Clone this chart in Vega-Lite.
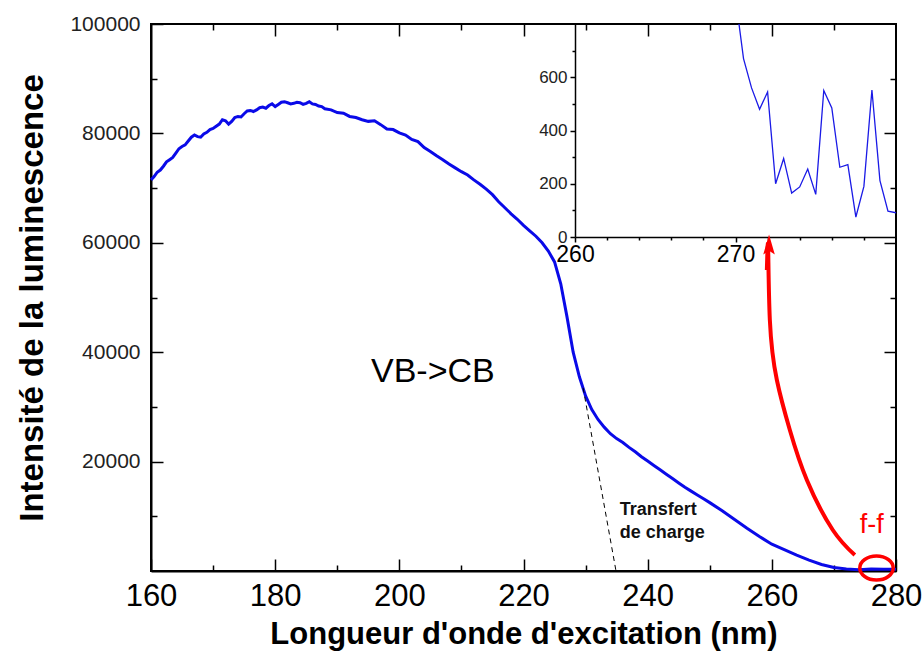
{
  "$schema": "https://vega.github.io/schema/vega-lite/v6.json",
  "width": 745,
  "height": 547,
  "autosize": {"type": "none"},
  "padding": {"left": 151, "top": 24, "right": 28, "bottom": 94},
  "background": "white",
  "config": {
    "font": "Liberation Sans",
    "view": {"stroke": "black", "strokeWidth": 2},
    "axis": {"grid": false, "domainColor": "black", "tickColor": "black", "labelColor": "black", "titleColor": "black", "tickWidth": 1.5, "domainWidth": 2, "labelFont": "Liberation Sans", "titleFont": "Liberation Sans"}
  },
  "datasets": {
    "main": [
      {"nm":160,"val":71500},{"nm":160.5,"val":72100},{"nm":161,"val":72900},{"nm":161.5,"val":73300},{"nm":162,"val":74000},{"nm":162.5,"val":74800},{"nm":163,"val":75200},{"nm":163.5,"val":75600},{"nm":164,"val":76400},{"nm":164.5,"val":77200},
      {"nm":165,"val":77600},{"nm":165.5,"val":77900},{"nm":166,"val":78600},{"nm":166.5,"val":79300},{"nm":167,"val":79700},{"nm":167.5,"val":79400},{"nm":168,"val":79300},{"nm":168.5,"val":79900},{"nm":169,"val":80200},{"nm":169.5,"val":80700},
      {"nm":170,"val":80900},{"nm":170.5,"val":81300},{"nm":171,"val":81700},{"nm":171.5,"val":82500},{"nm":172,"val":82300},{"nm":172.5,"val":81700},{"nm":173,"val":82200},{"nm":173.5,"val":82900},{"nm":174,"val":83100},{"nm":174.5,"val":83000},
      {"nm":175,"val":83600},{"nm":175.5,"val":84100},{"nm":176,"val":84200},{"nm":176.5,"val":84000},{"nm":177,"val":84300},{"nm":177.5,"val":84700},{"nm":178,"val":84800},{"nm":178.5,"val":84600},{"nm":179,"val":85100},{"nm":179.5,"val":85400},
      {"nm":180,"val":84900},{"nm":180.5,"val":85300},{"nm":181,"val":85700},{"nm":181.5,"val":85800},{"nm":182,"val":85600},{"nm":182.5,"val":85400},{"nm":183,"val":85500},{"nm":183.5,"val":85700},{"nm":184,"val":85600},{"nm":184.5,"val":85300},
      {"nm":185,"val":85500},{"nm":185.5,"val":85800},{"nm":186,"val":85400},{"nm":186.5,"val":85300},{"nm":187,"val":85000},{"nm":187.5,"val":84900},{"nm":188,"val":84500},{"nm":189,"val":84300},
      {"nm":190,"val":83800},{"nm":191,"val":83700},{"nm":192,"val":83100},{"nm":193,"val":82900},{"nm":194,"val":82500},
      {"nm":195,"val":82200},{"nm":196,"val":82300},{"nm":197,"val":81600},{"nm":198,"val":80800},{"nm":199,"val":80700},
      {"nm":200,"val":80100},{"nm":201,"val":79700},{"nm":202,"val":78900},{"nm":203,"val":78500},{"nm":204,"val":77400},
      {"nm":205,"val":76700},{"nm":206,"val":75900},{"nm":207,"val":75200},{"nm":208,"val":74400},{"nm":209,"val":73700},
      {"nm":210,"val":73000},{"nm":211,"val":72400},{"nm":212,"val":71500},{"nm":213,"val":70700},{"nm":214,"val":69800},
      {"nm":215,"val":68800},{"nm":216,"val":67500},{"nm":217,"val":66400},{"nm":218,"val":65300},{"nm":219,"val":64300},
      {"nm":220,"val":63200},{"nm":221,"val":62200},{"nm":222,"val":61200},{"nm":223,"val":60000},{"nm":224,"val":58500},
      {"nm":225,"val":56500},{"nm":226,"val":52500},{"nm":227,"val":46500},{"nm":228,"val":40000},{"nm":229,"val":35500},
      {"nm":230,"val":32000},{"nm":231,"val":29500},{"nm":232,"val":27700},{"nm":233,"val":26300},{"nm":234,"val":25100},
      {"nm":235,"val":24200},{"nm":236,"val":23500},{"nm":237,"val":22600},{"nm":238,"val":21800},{"nm":239,"val":20900},
      {"nm":240,"val":20100},{"nm":241,"val":19300},{"nm":242,"val":18500},{"nm":243,"val":17700},{"nm":244,"val":16900},
      {"nm":245,"val":16100},{"nm":246,"val":15300},{"nm":247,"val":14600},{"nm":248,"val":13900},{"nm":249,"val":13200},
      {"nm":250,"val":12500},{"nm":252,"val":11000},{"nm":254,"val":9400},{"nm":256,"val":7800},{"nm":258,"val":6300},
      {"nm":260,"val":4900},{"nm":262,"val":3900},{"nm":264,"val":2900},{"nm":266,"val":2000},{"nm":268,"val":1200},
      {"nm":270,"val":650},{"nm":272,"val":350},{"nm":274,"val":250},{"nm":276,"val":350},{"nm":278,"val":300},{"nm":280,"val":300}
    ],
    "dashed": [{"nm":229.6,"val":33500},{"nm":234.9,"val":0}],
    "arrow": [
      {"nm":273.37,"val":2925},{"nm":269.82,"val":7495},{"nm":265.64,"val":16636},{"nm":262.9,"val":25777},
      {"nm":260.81,"val":34918},{"nm":259.68,"val":45887},{"nm":259.2,"val":55027},{"nm":259.4,"val":59300}
    ],
    "arrowhead": [{"nm":259.55,"val":59600}],
    "circle": [{"nm":276.86,"val":550}],
    "lab_vbcb": [{"nm":205.4,"val":34550,"label":"VB->CB"}],
    "lab_tc": [{"nm":235.5,"val":10240,"label":"Transfert\nde charge"}],
    "lab_ff": [{"nm":276.1,"val":6950,"label":"f-f"}],
    "inset": [
      {"x2":269.5,"y2":1300},{"x2":270.0,"y2":900},{"x2":270.5,"y2":670},{"x2":271.0,"y2":560},{"x2":271.5,"y2":480},
      {"x2":272.0,"y2":545},{"x2":272.5,"y2":200},{"x2":273.0,"y2":295},{"x2":273.5,"y2":165},{"x2":274.0,"y2":188},
      {"x2":274.5,"y2":255},{"x2":275.0,"y2":160},{"x2":275.5,"y2":550},{"x2":276.0,"y2":485},{"x2":276.5,"y2":262},
      {"x2":277.0,"y2":272},{"x2":277.5,"y2":75},{"x2":278.0,"y2":190},{"x2":278.5,"y2":552},{"x2":279.0,"y2":212},
      {"x2":279.5,"y2":97},{"x2":280.0,"y2":91}
    ]
  },
  "resolve": {"scale": {"x": "independent", "y": "independent"}, "axis": {"x": "independent", "y": "independent"}},
  "layer": [
    {
      "data": {"name": "main"},
      "mark": {"type": "line", "color": "#0a0ae8", "strokeWidth": 3},
      "encoding": {
        "x": {"field": "nm", "type": "quantitative", "scale": {"domain": [160, 280], "nice": false, "zero": false},
          "axis": {"orient": "bottom", "values": [160, 180, 200, 220, 240, 260, 280], "tickSize": -12, "labelFontSize": 31, "labelPadding": 22, "labelFlush": false,
            "title": "Longueur d'onde d'excitation (nm)", "titleFontSize": 31, "titleFontWeight": "bold", "titlePadding": 8}},
        "y": {"field": "val", "type": "quantitative", "scale": {"domain": [0, 100000], "nice": false},
          "axis": {"orient": "left", "values": [20000, 40000, 60000, 80000, 100000], "tickSize": -12, "labelFontSize": 21, "labelColor": "#222", "labelPadding": 23, "labelFlush": false, "format": "d",
            "title": "Intensité de la luminescence", "titleFontSize": 33, "titleFontWeight": "bold", "titlePadding": 20}}
      }
    },
    {
      "data": {"values": []},
      "mark": {"type": "point", "opacity": 0},
      "encoding": {
        "x": {"field": "nm", "type": "quantitative", "scale": {"domain": [160, 280], "nice": false, "zero": false},
          "axis": {"orient": "bottom", "values": [170, 190, 210, 230, 250, 270], "tickSize": -6, "labels": false, "domain": false, "title": null}},
        "y": {"field": "val", "type": "quantitative", "scale": {"domain": [0, 100000], "nice": false},
          "axis": {"orient": "left", "values": [10000, 30000, 50000, 70000, 90000], "tickSize": -6, "labels": false, "domain": false, "title": null}}
      }
    },
    {
      "data": {"values": []},
      "mark": {"type": "point", "opacity": 0},
      "encoding": {
        "x": {"field": "nm", "type": "quantitative", "scale": {"domain": [160, 280], "nice": false, "zero": false},
          "axis": {"orient": "top", "values": [180, 200, 220, 240, 260], "tickSize": -12, "labels": false, "domain": false, "title": null}},
        "y": {"field": "val", "type": "quantitative", "scale": {"domain": [0, 100000], "nice": false},
          "axis": {"orient": "right", "values": [20000, 40000, 60000, 80000], "tickSize": -12, "labels": false, "domain": false, "title": null}}
      }
    },
    {
      "data": {"values": []},
      "mark": {"type": "point", "opacity": 0},
      "encoding": {
        "x": {"field": "nm", "type": "quantitative", "scale": {"domain": [160, 280], "nice": false, "zero": false},
          "axis": {"orient": "top", "values": [170, 190, 210, 230, 250, 270], "tickSize": -6, "labels": false, "domain": false, "title": null}},
        "y": {"field": "val", "type": "quantitative", "scale": {"domain": [0, 100000], "nice": false},
          "axis": {"orient": "right", "values": [10000, 30000, 50000, 70000, 90000], "tickSize": -6, "labels": false, "domain": false, "title": null}}
      }
    },
    {
      "data": {"name": "dashed"},
      "mark": {"type": "line", "color": "black", "strokeWidth": 1, "strokeDash": [5, 4]},
      "encoding": {
        "x": {"field": "nm", "type": "quantitative", "scale": {"domain": [160, 280], "nice": false, "zero": false}, "axis": null},
        "y": {"field": "val", "type": "quantitative", "scale": {"domain": [0, 100000], "nice": false}, "axis": null}
      }
    },
    {
      "data": {"name": "arrow"},
      "mark": {"type": "line", "color": "#ff0000", "strokeWidth": 4, "interpolate": "natural"},
      "encoding": {
        "x": {"field": "nm", "type": "quantitative", "scale": {"domain": [160, 280], "nice": false, "zero": false}, "axis": null},
        "y": {"field": "val", "type": "quantitative", "scale": {"domain": [0, 100000], "nice": false}, "axis": null}
      }
    },
    {
      "data": {"name": "arrowhead"},
      "mark": {"type": "point", "shape": "M 0 -1 L 0.55 0.9 L 0 0.55 L -0.55 0.9 Z", "size": 440, "filled": true, "color": "#ff0000", "opacity": 1},
      "encoding": {
        "x": {"field": "nm", "type": "quantitative", "scale": {"domain": [160, 280], "nice": false, "zero": false}, "axis": null},
        "y": {"field": "val", "type": "quantitative", "scale": {"domain": [0, 100000], "nice": false}, "axis": null}
      }
    },
    {
      "data": {"name": "circle"},
      "mark": {"type": "point", "shape": "M -1 0 A 1 0.72 0 1 0 1 0 A 1 0.72 0 1 0 -1 0 Z", "size": 1115, "filled": false, "stroke": "#ff0000", "strokeWidth": 3.5, "opacity": 1},
      "encoding": {
        "x": {"field": "nm", "type": "quantitative", "scale": {"domain": [160, 280], "nice": false, "zero": false}, "axis": null},
        "y": {"field": "val", "type": "quantitative", "scale": {"domain": [0, 100000], "nice": false}, "axis": null}
      }
    },
    {
      "data": {"name": "lab_vbcb"},
      "mark": {"type": "text", "fontSize": 34, "align": "center", "baseline": "alphabetic", "color": "black"},
      "encoding": {
        "x": {"field": "nm", "type": "quantitative", "scale": {"domain": [160, 280], "nice": false, "zero": false}, "axis": null},
        "y": {"field": "val", "type": "quantitative", "scale": {"domain": [0, 100000], "nice": false}, "axis": null},
        "text": {"field": "label"}
      }
    },
    {
      "data": {"name": "lab_tc"},
      "mark": {"type": "text", "fontSize": 18, "fontWeight": "bold", "align": "left", "baseline": "alphabetic", "color": "#111", "lineBreak": "\n", "lineHeight": 23},
      "encoding": {
        "x": {"field": "nm", "type": "quantitative", "scale": {"domain": [160, 280], "nice": false, "zero": false}, "axis": null},
        "y": {"field": "val", "type": "quantitative", "scale": {"domain": [0, 100000], "nice": false}, "axis": null},
        "text": {"field": "label"}
      }
    },
    {
      "data": {"name": "lab_ff"},
      "mark": {"type": "text", "fontSize": 27, "align": "center", "baseline": "alphabetic", "color": "#ff0000"},
      "encoding": {
        "x": {"field": "nm", "type": "quantitative", "scale": {"domain": [160, 280], "nice": false, "zero": false}, "axis": null},
        "y": {"field": "val", "type": "quantitative", "scale": {"domain": [0, 100000], "nice": false}, "axis": null},
        "text": {"field": "label"}
      }
    },
    {
      "data": {"name": "inset"},
      "mark": {"type": "line", "color": "#1a1ae6", "strokeWidth": 1.3, "clip": true},
      "encoding": {
        "x": {"field": "x2", "type": "quantitative", "scale": {"domain": [260, 280], "range": [424, 745], "nice": false, "zero": false},
          "axis": {"orient": "bottom", "offset": -334, "values": [260, 270], "tickSize": 5, "domainWidth": 1.5, "labelFontSize": 23, "labelPadding": 1, "labelFlush": false, "title": null}},
        "y": {"field": "y2", "type": "quantitative", "scale": {"domain": [0, 800], "range": [213, 0], "nice": false},
          "axis": {"orient": "left", "offset": -424, "values": [0, 200, 400, 600], "tickSize": 5, "domainWidth": 1.5, "labelFontSize": 17, "labelColor": "#222", "labelPadding": 3, "labelFlush": false, "title": null}}
      }
    },
    {
      "data": {"values": []},
      "mark": {"type": "point", "opacity": 0},
      "encoding": {
        "x": {"field": "x2", "type": "quantitative", "scale": {"domain": [260, 280], "range": [424, 745], "nice": false, "zero": false},
          "axis": {"orient": "bottom", "offset": -334, "values": [262, 264, 266, 268, 272, 274, 276, 278], "tickSize": 3, "labels": false, "domain": false, "title": null}},
        "y": {"field": "y2", "type": "quantitative", "scale": {"domain": [0, 800], "range": [213, 0], "nice": false},
          "axis": {"orient": "left", "offset": -424, "values": [100, 300, 500, 700], "tickSize": 3, "labels": false, "domain": false, "title": null}}
      }
    }
  ]
}
